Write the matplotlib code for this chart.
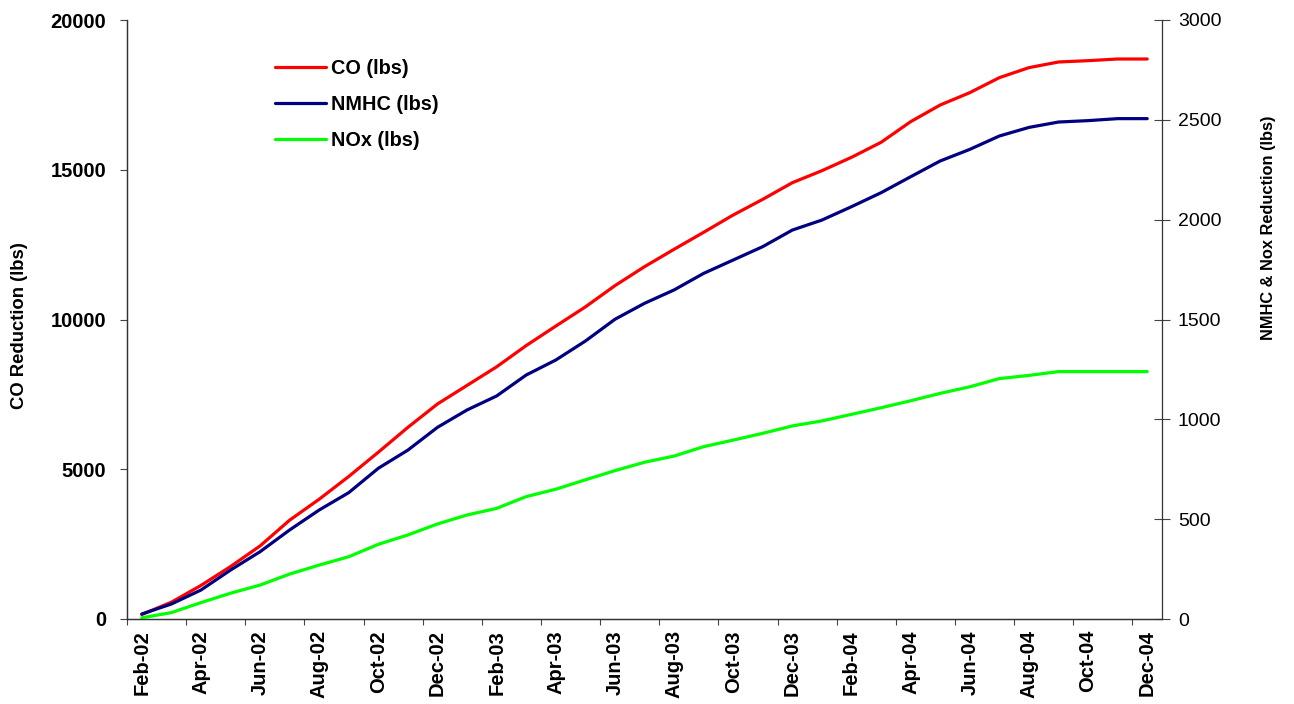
import matplotlib
matplotlib.use("Agg")
import matplotlib.pyplot as plt
import numpy as np

# Monthly cumulative emission reductions
months = ["Feb-02", "Mar-02", "Apr-02", "May-02", "Jun-02", "Jul-02", "Aug-02",
          "Sep-02", "Oct-02", "Nov-02", "Dec-02", "Jan-03", "Feb-03", "Mar-03",
          "Apr-03", "May-03", "Jun-03", "Jul-03", "Aug-03", "Sep-03", "Oct-03",
          "Nov-03", "Dec-03", "Jan-04", "Feb-04", "Mar-04", "Apr-04", "May-04",
          "Jun-04", "Jul-04", "Aug-04", "Sep-04", "Oct-04", "Nov-04", "Dec-04"]

co_lbs = [150, 560, 1120, 1750, 2440, 3300, 4000, 4760, 5570, 6400, 7180, 7800,
          8420, 9130, 9780, 10420, 11130, 11763, 12344, 12911, 13489, 14013,
          14568, 14969, 15415, 15916, 16605, 17162, 17574, 18075, 18409, 18598,
          18642, 18698, 18698]

nmhc_lbs = [25, 75, 145, 245, 337, 446, 546, 633, 755, 846, 960, 1047, 1117,
            1222, 1297, 1392, 1501, 1581, 1648, 1731, 1798, 1865, 1948, 1998,
            2065, 2135, 2215, 2294, 2352, 2419, 2462, 2489, 2496, 2506, 2506]

nox_lbs = [6, 32, 82, 129, 170, 225, 270, 312, 374, 421, 476, 521, 554, 613,
           650, 697, 743, 785, 816, 863, 896, 930, 967, 992, 1025, 1058, 1093,
           1130, 1163, 1204, 1220, 1239, 1239, 1239, 1239]

left_ticks = [0, 5000, 10000, 15000, 20000]
right_ticks = [0, 500, 1000, 1500, 2000, 2500, 3000]

plt.rcParams["font.family"] = ["Liberation Sans", "DejaVu Sans"]

fig = plt.figure(figsize=(12.94, 7.04), dpi=100)
ax = fig.add_axes([127 / 1294, 1 - 619 / 704, (1162 - 127) / 1294, (619 - 20) / 704])
ax2 = ax.twinx()

x = np.arange(len(months))

l_co, = ax.plot(x, co_lbs, color="#FF0000", lw=2.3, label="CO (lbs)",
                solid_joinstyle="round", solid_capstyle="round")
l_nmhc, = ax2.plot(x, nmhc_lbs, color="#000080", lw=2.3, label="NMHC (lbs)",
                   solid_joinstyle="round", solid_capstyle="round")
l_nox, = ax2.plot(x, nox_lbs, color="#00FF00", lw=2.3, label="NOx (lbs)",
                  solid_joinstyle="round", solid_capstyle="round")

ax.set_xlim(-0.5, len(months) - 0.5)
ax.set_ylim(0, 20000)
ax2.set_ylim(0, 3000)

# category axis: tick marks between categories, labels on every other month
ax.set_xticks(np.arange(-0.5, len(months) - 1, 2))
ax.set_xticklabels([])
ax.set_xticks(x[::2], minor=True)
ax.set_xticklabels(months[::2], minor=True, rotation=90, fontweight="bold",
                   fontsize=14.5)
ax.tick_params(axis="x", which="major", direction="out", length=4.5, width=0.8,
               color="#444444")
ax.tick_params(axis="x", which="minor", length=0, pad=8)

ax.set_yticks(left_ticks)
ax.set_yticklabels([str(v) for v in left_ticks], fontweight="bold", fontsize=14.5)
ax.tick_params(axis="y", direction="out", length=5, width=0.8, pad=10,
               color="#444444")

ax2.set_yticks(right_ticks)
ax2.set_yticklabels([str(v) for v in right_ticks], fontsize=14)
ax2.tick_params(axis="y", direction="inout", length=11, width=0.8, pad=6,
                color="#444444")

for a in (ax, ax2):
    a.spines["top"].set_visible(False)
    for s in ("left", "right", "bottom"):
        a.spines[s].set_linewidth(0.9)
        a.spines[s].set_color("#333333")
ax.spines["right"].set_visible(False)

fig.text(20 / 1294, 1 - 326 / 704, "CO Reduction (lbs)", rotation=90,
         ha="center", va="center", fontsize=13.3, fontweight="bold")
fig.text(1268 / 1294, 1 - 228 / 704, "NMHC & Nox Reduction (lbs)", rotation=90,
         ha="center", va="center", fontsize=11.8, fontweight="bold")

leg = ax.legend(handles=[l_co, l_nmhc, l_nox], loc="upper left",
                bbox_to_anchor=(275 / 1294, 1 - 59 / 704),
                bbox_transform=fig.transFigure, frameon=False, borderpad=0,
                borderaxespad=0, handlelength=2.55, handletextpad=0.25,
                labelspacing=0.85, prop={"weight": "bold", "size": 14.3})

fig.savefig("out.png", dpi=100, facecolor="white")
